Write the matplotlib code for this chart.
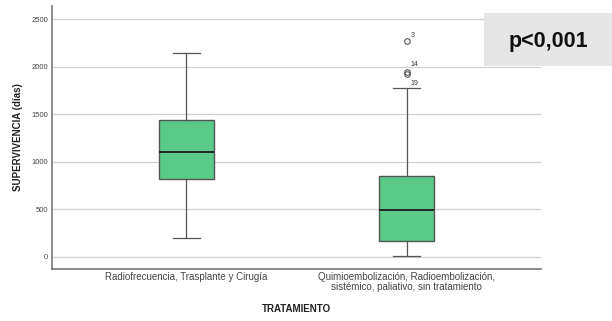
import matplotlib
matplotlib.use('Agg')
import matplotlib.pyplot as plt
from matplotlib.patches import Rectangle

plt.rcParams['font.family'] = ['Liberation Sans', 'DejaVu Sans']

# grupos de tratamiento
grupos = ['Radiofrecuencia, Trasplante y Cirugía',
          'Quimioembolización, Radioembolización,\nsistémico, paliativo, sin tratamiento']

# estadísticos de cada caja (días)
q1 = [815, 168]
mediana = [1106, 492]
q3 = [1440, 850]
bigote_inf = [197, 10]
bigote_sup = [2142, 1777]

# casos atípicos del segundo grupo
atipicos_val = [2271, 1940, 1924]
atipicos_id = ['3', '14', '19']

stats = []
for i in range(len(grupos)):
    stats.append({'q1': q1[i], 'med': mediana[i], 'q3': q3[i],
                  'whislo': bigote_inf[i], 'whishi': bigote_sup[i],
                  'fliers': atipicos_val if i == 1 else []})

fig = plt.figure(figsize=(6.12, 3.21), dpi=100)
ax = fig.add_axes([52 / 612, 52 / 321, 489 / 612, 263 / 321])

ax.yaxis.grid(True, color='#d0d0d0', linewidth=0.9)
ax.set_axisbelow(True)

ax.bxp(stats, positions=[1, 2], widths=0.25, patch_artist=True,
       boxprops=dict(facecolor='#5bca88', edgecolor='#555555', linewidth=1.0),
       medianprops=dict(color='#1a1a1a', linewidth=1.3),
       whiskerprops=dict(color='#555555', linewidth=0.9),
       capprops=dict(color='#555555', linewidth=0.9),
       capwidths=0.125,
       flierprops=dict(marker='o', markersize=4, markerfacecolor='none',
                       markeredgecolor='#555555', markeredgewidth=0.8))

# etiquetas de los atípicos
offsets = [(3, 3), (3, 5), (3, -8)]
for v, lab, off in zip(atipicos_val, atipicos_id, offsets):
    ax.annotate(lab, (2, v), xytext=off, textcoords='offset points',
                fontsize=5, color='#333333')

ax.set_xlim(0.39, 2.61)
ax.set_ylim(-130, 2640)
ax.set_yticks([0, 500, 1000, 1500, 2000, 2500])
ax.tick_params(axis='y', length=0, labelsize=5.5, labelcolor='#444444', pad=3)
ax.tick_params(axis='x', length=0, labelsize=7, labelcolor='#444444', pad=2)
ax.set_xticks([1, 2])
ax.set_xticklabels(grupos, linespacing=1.0)

for s in ['top', 'right']:
    ax.spines[s].set_visible(False)
for s in ['left', 'bottom']:
    ax.spines[s].set_color('#777777')
    ax.spines[s].set_linewidth(1.2)

ax.set_ylabel('SUPERVIVENCIA (días)', fontsize=7, fontweight='bold', color='#222222', labelpad=6)
ax.set_xlabel('TRATAMIENTO', fontsize=7, fontweight='bold', color='#222222', labelpad=9)

# recuadro con el valor p
fig.patches.append(Rectangle((484 / 612, 1 - 66 / 321), 128 / 612, 53 / 321,
                             transform=fig.transFigure, facecolor='#e6e6e6',
                             edgecolor='none', zorder=5))
fig.text(548 / 612, 1 - 42 / 321, 'p<0,001', fontsize=15.5, fontweight='bold',
         ha='center', va='center', color='#111111', zorder=6)

fig.savefig('out.png', dpi=100)
